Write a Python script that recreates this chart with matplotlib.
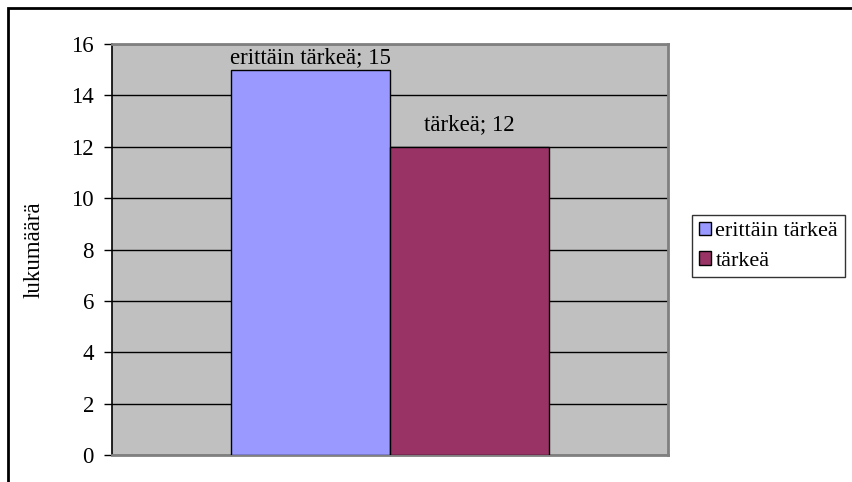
import matplotlib
matplotlib.use("Agg")
import matplotlib.pyplot as plt
from matplotlib.patches import Rectangle

categories = ["erittäin tärkeä", "tärkeä"]
values = [15, 12]
colors = ["#9999FF", "#993366"]
yticks = [0, 2, 4, 6, 8, 10, 12, 14, 16]
ylabel = "lukumäärä"

plt.rcParams['font.family'] = ['Liberation Serif', 'DejaVu Serif']
W, H = 852, 482
FS = 16.5
fig = plt.figure(figsize=(W / 100, H / 100), dpi=100)

# outer chart frame (left/top edges visible, rest cropped)
fig.patches.append(Rectangle((8 / W, -0.1), 1.2, (H - 8) / H + 0.1,
                             transform=fig.transFigure, fill=False,
                             edgecolor="black", linewidth=2.0))

left, right, top, bottom = 112, 668, 44, 455
ax = fig.add_axes([left / W, 1 - bottom / H, (right - left) / W, (bottom - top) / H])
ax.set_facecolor("#C0C0C0")

bw = 0.286
offs = [-bw / 2, bw / 2]
for i, (c, v) in enumerate(zip(categories, values)):
    ax.bar(offs[i], v, width=bw, color=colors[i], edgecolor="black",
           linewidth=1.0, label=c, zorder=3)

label_offsets = [9, 16]
for i, (c, v) in enumerate(zip(categories, values)):
    ax.annotate(f"{c}; {v}", xy=(offs[i], v), xytext=(0, label_offsets[i]),
                textcoords="offset points", ha="center", va="center",
                fontsize=FS, zorder=4)

ax.set_xlim(-0.5, 0.5)
ax.set_ylim(0, 16)
ax.set_yticks(yticks)
ax.set_yticklabels([str(t) for t in yticks], fontsize=FS)
ax.set_xticks([])
ax.yaxis.grid(True, color="black", linewidth=1.0, zorder=1)
ax.set_axisbelow(True)
ax.tick_params(axis="y", direction="out", length=6, width=1.0, pad=7)
for s in ["top", "right", "bottom"]:
    ax.spines[s].set_color("#808080")
    ax.spines[s].set_linewidth(2.0)
ax.spines["left"].set_color("black")
ax.spines["left"].set_linewidth(1.2)
ax.set_ylabel(ylabel, fontsize=FS, labelpad=19)

leg = fig.legend(loc="upper left", bbox_to_anchor=(692 / W, 1 - 215 / H),
                 frameon=True, fancybox=False, edgecolor="black",
                 fontsize=16, handlelength=0.55, handleheight=0.55,
                 handletextpad=0.2, borderpad=0.3, labelspacing=0.45,
                 borderaxespad=0)
leg.get_frame().set_linewidth(1.0)

fig.savefig("out.png", dpi=100)
